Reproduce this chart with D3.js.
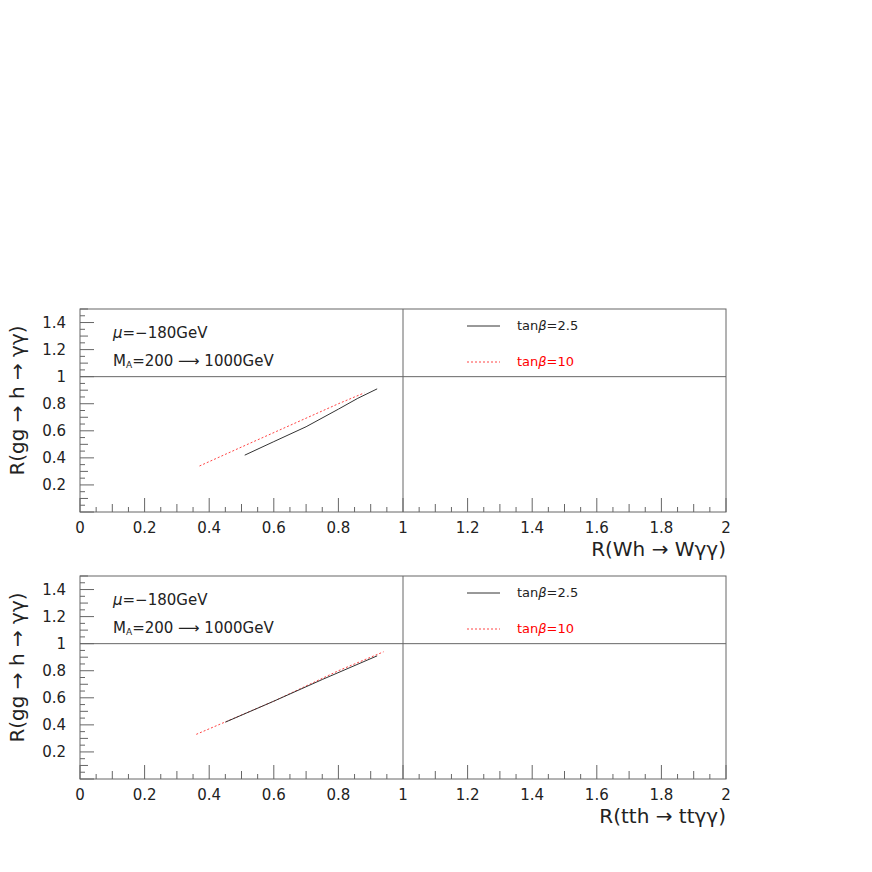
<!DOCTYPE html>
<html><head><meta charset="utf-8">
<script src="https://cdn.jsdelivr.net/npm/d3@7"></script>
<style>body{margin:0;background:#fff}text{font-family:"DejaVu Sans",sans-serif}</style>
</head><body><div id="viz"></div>
<script>
// values
const xTicks = [0, 0.2, 0.4, 0.6, 0.8, 1, 1.2, 1.4, 1.6, 1.8, 2];
const yTicks = [0.2, 0.4, 0.6, 0.8, 1, 1.2, 1.4];
const wh25 = [[0.51, 0.42], [0.6, 0.52], [0.7, 0.63], [0.8, 0.76], [0.86, 0.84], [0.92, 0.91]];
const wh10 = [[0.37, 0.34], [0.5, 0.48], [0.65, 0.64], [0.8, 0.8], [0.88, 0.88]];
const tt25 = [[0.45, 0.42], [0.6, 0.575], [0.75, 0.735], [0.92, 0.91]];
const tt10 = [[0.36, 0.33], [0.6, 0.575], [0.8, 0.8], [0.94, 0.94]];
const panels = [
  {top: 309, xlab: "R(Wh \u2192 W\u03b3\u03b3)", s25: wh25, s10: wh10},
  {top: 576, xlab: "R(tth \u2192 tt\u03b3\u03b3)", s25: tt25, s10: tt10}
];

const svg = d3.select("#viz").append("svg").attr("width", 872).attr("height", 872);
const left = 80, right = 726, h = 203;

panels.forEach(p => {
  const x = d3.scaleLinear().domain([0, 2]).range([left, right]);
  const y = d3.scaleLinear().domain([0, 1.5]).range([p.top + h, p.top]);
  const g = svg.append("g");

  g.append("rect").attr("x", left).attr("y", p.top).attr("width", right - left).attr("height", h)
    .attr("fill", "none").attr("stroke", "#666");
  g.append("line").attr("x1", x(1)).attr("x2", x(1)).attr("y1", p.top).attr("y2", p.top + h).attr("stroke", "#666");
  g.append("line").attr("x1", left).attr("x2", right).attr("y1", y(1)).attr("y2", y(1)).attr("stroke", "#666");

  const tlen = d => Math.abs(d * 5 - Math.round(d * 5)) < 1e-6 ? 14 : (Math.abs(d * 10 - Math.round(d * 10)) < 1e-6 ? 8 : 5);
  g.selectAll(".xt").data(d3.range(0, 2.001, 0.05)).join("line")
    .attr("x1", d => x(d)).attr("x2", d => x(d))
    .attr("y1", p.top + h).attr("y2", d => p.top + h - tlen(d)).attr("stroke", "#666");
  g.selectAll(".yt").data(d3.range(0, 1.501, 0.05)).join("line")
    .attr("y1", d => y(d)).attr("y2", d => y(d))
    .attr("x1", left).attr("x2", d => left + tlen(d)).attr("stroke", "#666");

  g.selectAll(".xl").data(xTicks).join("text").attr("x", d => x(d)).attr("y", p.top + h + 21)
    .attr("text-anchor", "middle").attr("font-size", 15).attr("fill", "#222").text(d => d);
  g.selectAll(".yl").data(yTicks).join("text").attr("x", left - 14).attr("y", d => y(d) + 5)
    .attr("text-anchor", "end").attr("font-size", 15).attr("fill", "#222").text(d => d);

  g.append("text").attr("x", right).attr("y", p.top + h + 44).attr("text-anchor", "end")
    .attr("font-size", 20).attr("fill", "#222").text(p.xlab);
  g.append("text").attr("transform", `translate(24,${p.top + h / 2 - 10}) rotate(-90)`).attr("text-anchor", "middle")
    .attr("font-size", 20).attr("fill", "#222").text("R(gg \u2192 h \u2192 \u03b3\u03b3)");

  g.append("text").attr("x", 113).attr("y", p.top + 29).attr("font-size", 15).attr("fill", "#222")
    .html('<tspan font-style="italic">\u03bc</tspan>=\u2212180GeV');
  g.append("text").attr("x", 113).attr("y", p.top + 57).attr("font-size", 15).attr("fill", "#222")
    .html('M<tspan font-size="9" dy="2">A</tspan><tspan dy="-2">=200 \u27f6 1000GeV</tspan>');

  const line = d3.line().x(d => x(d[0])).y(d => y(d[1]));
  g.append("path").datum(p.s10).attr("d", line).attr("fill", "none").attr("stroke", "#f44")
    .attr("stroke-dasharray", "2,2");
  g.append("path").datum(p.s25).attr("d", line).attr("fill", "none").attr("stroke", "#333");

  g.append("line").attr("x1", 467).attr("x2", 500).attr("y1", p.top + 17).attr("y2", p.top + 17).attr("stroke", "#333");
  g.append("text").attr("x", 517).attr("y", p.top + 21).attr("font-size", 13).attr("fill", "#222")
    .html('tan<tspan font-style="italic">\u03b2</tspan>=2.5');
  g.append("line").attr("x1", 467).attr("x2", 500).attr("y1", p.top + 53).attr("y2", p.top + 53)
    .attr("stroke", "#f44").attr("stroke-dasharray", "2,2");
  g.append("text").attr("x", 517).attr("y", p.top + 57).attr("font-size", 13).attr("fill", "#f00")
    .html('tan<tspan font-style="italic">\u03b2</tspan>=10');
});
</script></body></html>
